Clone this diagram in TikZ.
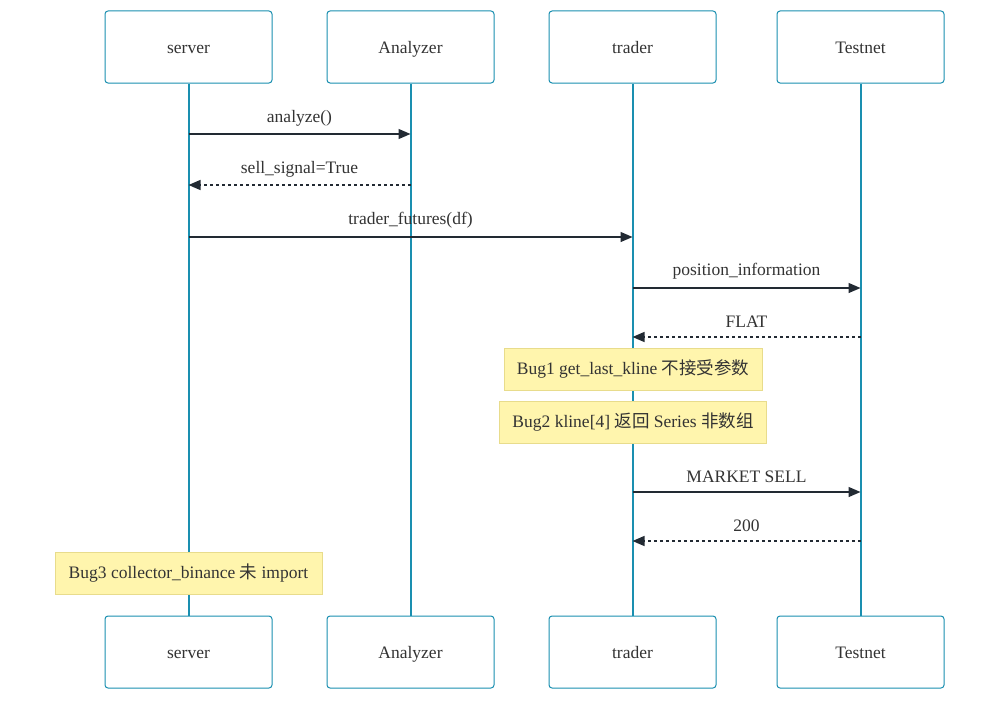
\documentclass[tikz,border=0pt]{standalone}
\usepackage{fontspec}
\setmainfont{Liberation Serif}
\newfontfamily\cjk{Noto Sans CJK SC}
\usepackage{tikz}
\usetikzlibrary{arrows.meta}

\definecolor{lifecol}{HTML}{1A8FB0}
\definecolor{msgcol}{HTML}{222A33}
\definecolor{txtcol}{HTML}{333333}
\definecolor{notefill}{HTML}{FFF5AD}
\definecolor{notedraw}{HTML}{E8DC8C}

\tikzset{
  actor/.style={draw=lifecol,fill=white,rounded corners=3pt,line width=1pt,
    minimum width=167pt,minimum height=72pt,text=txtcol,text height=16pt,text depth=4pt},
  lifeline/.style={draw=lifecol,line width=2pt},
  msg/.style={draw=msgcol,line width=1.3pt,-{Triangle[length=12pt,width=10pt]}},
  reply/.style={msg,dash pattern=on 3pt off 3pt},
  lbl/.style={text=txtcol,inner sep=0pt},
  note/.style={draw=notedraw,fill=notefill,line width=1pt,minimum height=42pt,
    text=txtcol,inner sep=0pt,text height=14pt,text depth=4pt}
}

\begin{document}
\begin{tikzpicture}[x=1pt,y=-1pt,font=\fontsize{17.5}{20}\selectfont]
  \useasboundingbox[fill=white] (0,0) rectangle (1000,701);
  % participants and lifelines
  \foreach \n/\x/\t in {s/188.5/server, a/410.5/Analyzer, t/632.5/trader, n/860.5/Testnet}{
    \node[actor] (\n-top) at (\x,47) {\t};
    \node[actor] (\n-bot) at (\x,652) {\t};
    \draw[lifeline] (\n-top) -- (\n-bot);
  }
  % messages
  \draw[msg] (s-top |- 0,134) -- (a-top |- 0,134) node[lbl,midway,yshift=16pt] {analyze()};
  \draw[reply] (a-top |- 0,185) -- (s-top |- 0,185) node[lbl,midway,yshift=16pt] {sell\_signal=True};
  \draw[msg] (s-top |- 0,237) -- (t-top |- 0,237) node[lbl,midway,yshift=17pt] {trader\_futures(df)};
  \draw[msg] (t-top |- 0,288) -- (n-top |- 0,288) node[lbl,midway,yshift=17pt] {position\_information};
  \draw[reply] (n-top |- 0,337) -- (t-top |- 0,337) node[lbl,midway,yshift=15pt] {FLAT};
  % notes
  \node[note,minimum width=258pt] (bug1) at (633,369) {Bug1 get\_last\_kline {\cjk 不接受参数}};
  \node[note,minimum width=267pt] (bug2) at (633,422) {Bug2 kline[4] {\cjk 返回} Series {\cjk 非数组}};
  \draw[msg] (t-top |- 0,492) -- (n-top |- 0,492) node[lbl,midway,yshift=15pt] {MARKET SELL};
  \draw[reply] (n-top |- 0,541) -- (t-top |- 0,541) node[lbl,midway,yshift=15pt] {200};
  \node[note,minimum width=267pt] (bug3) at (188.5,573) {Bug3 collector\_binance {\cjk 未} import};
\end{tikzpicture}
\end{document}
